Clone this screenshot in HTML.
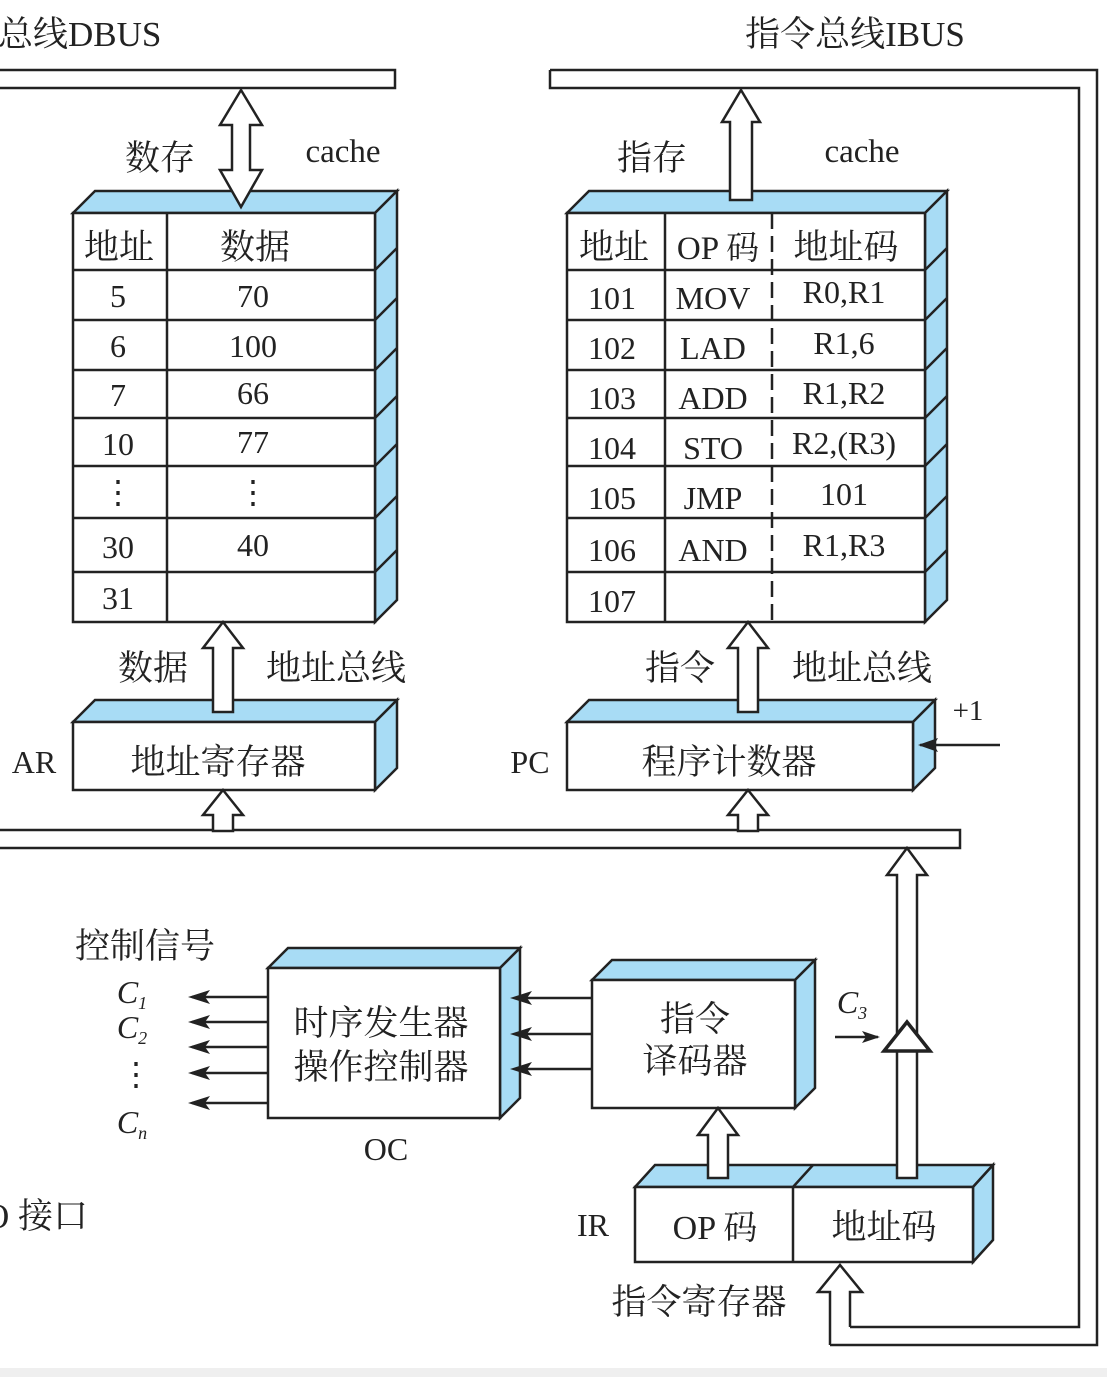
<!DOCTYPE html>
<html><head><meta charset="utf-8"><style>
html,body{margin:0;padding:0;background:#fff;}
svg{display:block;}
text{font-family:"Liberation Serif","Noto Serif CJK SC",serif;fill:#222;}
</style></head><body>
<svg width="1107" height="1377" viewBox="0 0 1107 1377" xmlns="http://www.w3.org/2000/svg">
<rect x="0" y="1368" width="1107" height="9" fill="#efefef"/>
<g stroke="#222" stroke-width="2.5" fill="none" stroke-linejoin="miter">
<path d="M-5 70 H395 V88 H-5" fill="#fff"/>
<path d="M550 70 H1097 V1345 H830 M550 70 V88 H1079 V1327 H850"/>
<polygon points="73,213 95,191 397,191 375,213" fill="#a8dcf5"/>
<polygon points="375,213 397,191 397,600 375,622" fill="#a8dcf5"/>
<rect x="73" y="213" width="302" height="409" fill="#fff"/>
<path d="M73 270H375M73 320H375M73 370H375M73 418H375M73 466H375M73 518H375M73 572H375M167 213V622"/>
<path d="M375 270L397 248M375 320L397 298M375 370L397 348M375 418L397 396M375 466L397 444M375 518L397 496M375 572L397 550"/>
<polygon points="567,213 589,191 947,191 925,213" fill="#a8dcf5"/>
<polygon points="925,213 947,191 947,600 925,622" fill="#a8dcf5"/>
<rect x="567" y="213" width="358" height="409" fill="#fff"/>
<path d="M567 270H925M567 320H925M567 370H925M567 418H925M567 466H925M567 518H925M567 572H925M665 213V622"/>
<path d="M772 213V622" stroke-dasharray="16,7"/>
<path d="M925 270L947 248M925 320L947 298M925 370L947 348M925 418L947 396M925 466L947 444M925 518L947 496M925 572L947 550"/>
<polygon points="73,722 95,700 397,700 375,722" fill="#a8dcf5"/>
<polygon points="375,722 397,700 397,768 375,790" fill="#a8dcf5"/>
<rect x="73" y="722" width="302" height="68" fill="#fff"/>
<polygon points="567,722 589,700 935,700 913,722" fill="#a8dcf5"/>
<polygon points="913,722 935,700 935,768 913,790" fill="#a8dcf5"/>
<rect x="567" y="722" width="346" height="68" fill="#fff"/>
<polygon points="268,968 288,948 520,948 500,968" fill="#a8dcf5"/>
<polygon points="500,968 520,948 520,1098 500,1118" fill="#a8dcf5"/>
<rect x="268" y="968" width="232" height="150" fill="#fff"/>
<polygon points="592,980 612,960 815,960 795,980" fill="#a8dcf5"/>
<polygon points="795,980 815,960 815,1088 795,1108" fill="#a8dcf5"/>
<rect x="592" y="980" width="203" height="128" fill="#fff"/>
<polygon points="635,1187 655,1165 993,1165 973,1187" fill="#a8dcf5"/>
<path d="M793 1187 L813 1165"/>
<polygon points="973,1187 993,1165 993,1240 973,1262" fill="#a8dcf5"/>
<rect x="635" y="1187" width="338" height="75" fill="#fff"/>
<path d="M793 1187V1262"/>
<path d="M-5 830 H213 M233 830 H738 M758 830 H960 V848 H-5"/>
<polygon points="241,90 262,125 250,125 250,170 262,170 241,207 220,170 232,170 232,125 220,125" fill="#fff"/>
<polygon points="741,90 760,122 752,122 752,200 730,200 730,122 722,122" fill="#fff"/>
<polygon points="223,622 243,648 233,648 233,712 213,712 213,648 203,648" fill="#fff"/>
<polygon points="748,622 768,648 758,648 758,712 738,712 738,648 728,648" fill="#fff"/>
<polygon points="223,790 243,815 233,815 233,831 213,831 213,815 203,815" fill="#fff"/>
<polygon points="748,790 768,815 758,815 758,831 738,831 738,815 728,815" fill="#fff"/>
<polygon points="907,848 927,875 917,875 917,1178 897,1178 897,875 887,875" fill="#fff"/>
<polygon points="907,1022 930,1051 884,1051" fill="#fff" stroke-width="3.5"/>
<polygon points="718,1108 738,1135 728,1135 728,1178 708,1178 708,1135 698,1135" fill="#fff"/>
<path d="M830 1345 V1292 H818 L840 1265 L862 1292 H850 V1327" fill="#fff"/>
<path d="M1000 745 H920 M835 1037 H878"/>
<path d="M268 997H192M268 1022H192M268 1047H192M268 1073H192M268 1103H192"/>
<path d="M592 998H515M592 1034H515M592 1069H515"/>
</g>
<g fill="#222">
<polygon points="918,745 938,738 934,745 938,752"/>
<polygon points="880,1037 862,1031 866,1037 862,1043"/>
<polygon points="188,997 210,990 205,997 210,1004"/>
<polygon points="188,1022 210,1015 205,1022 210,1029"/>
<polygon points="188,1047 210,1040 205,1047 210,1054"/>
<polygon points="188,1073 210,1066 205,1073 210,1080"/>
<polygon points="188,1103 210,1096 205,1103 210,1110"/>
<polygon points="510,998 532,991 527,998 532,1005"/>
<polygon points="510,1034 532,1027 527,1034 532,1041"/>
<polygon points="510,1069 532,1062 527,1069 532,1076"/>
</g>
<g font-size="35" text-anchor="middle">
<text x="-2" y="46" text-anchor="start">总线DBUS</text>
<text x="855" y="46">指令总线IBUS</text>
<text x="160" y="170">数存</text>
<text x="343" y="162" font-size="33">cache</text>
<text x="652" y="170">指存</text>
<text x="862" y="162" font-size="33">cache</text>
<text x="119" y="259">地址</text>
<text x="255" y="259">数据</text>
<text x="614" y="259">地址</text>
<text x="718" y="259" font-size="33">OP 码</text>
<text x="846" y="259">地址码</text>
</g>
<g font-size="32" text-anchor="middle">
<text x="118" y="307">5</text><text x="253" y="307">70</text>
<text x="118" y="357">6</text><text x="253" y="357">100</text>
<text x="118" y="406">7</text><text x="253" y="404">66</text>
<text x="118" y="455">10</text><text x="253" y="453">77</text>
<text x="118" y="503">⋮</text><text x="253" y="503">⋮</text>
<text x="118" y="558">30</text><text x="253" y="556">40</text>
<text x="118" y="609">31</text>
<text x="612" y="309">101</text><text x="713" y="309">MOV</text><text x="844" y="303">R0,R1</text>
<text x="612" y="359">102</text><text x="713" y="359">LAD</text><text x="844" y="354">R1,6</text>
<text x="612" y="409">103</text><text x="713" y="409">ADD</text><text x="844" y="404">R1,R2</text>
<text x="612" y="459">104</text><text x="713" y="459">STO</text><text x="844" y="454">R2,(R3)</text>
<text x="612" y="509">105</text><text x="713" y="509">JMP</text><text x="844" y="505">101</text>
<text x="612" y="561">106</text><text x="713" y="561">AND</text><text x="844" y="556">R1,R3</text>
<text x="612" y="612">107</text>
</g>
<g font-size="35" text-anchor="middle">
<text x="153" y="680">数据</text>
<text x="336" y="680">地址总线</text>
<text x="680" y="680">指令</text>
<text x="862" y="680">地址总线</text>
<text x="34" y="773" font-size="32">AR</text>
<text x="218" y="774">地址寄存器</text>
<text x="530" y="773" font-size="32">PC</text>
<text x="729" y="774">程序计数器</text>
<text x="968" y="720" font-size="29">+1</text>
<text x="145" y="958">控制信号</text>
<text x="381" y="1035">时序发生器</text>
<text x="381" y="1079">操作控制器</text>
<text x="386" y="1160" font-size="32">OC</text>
<text x="695" y="1031">指令</text>
<text x="695" y="1073">译码器</text>
<text x="593" y="1236" font-size="32">IR</text>
<text x="715" y="1239" font-size="34">OP 码</text>
<text x="884" y="1239">地址码</text>
<text x="699" y="1314">指令寄存器</text>
<text x="88" y="1228" text-anchor="end">I/O 接口</text>
</g>
<g font-size="32" font-style="italic" text-anchor="middle">
<text x="132" y="1003">C<tspan font-size="18" dy="6">1</tspan></text>
<text x="132" y="1038">C<tspan font-size="18" dy="6">2</tspan></text>
<text x="136" y="1085" font-style="normal">⋮</text>
<text x="132" y="1133">C<tspan font-size="18" dy="6">n</tspan></text>
<text x="852" y="1013">C<tspan font-size="18" dy="6">3</tspan></text>
</g>
</svg>
</body></html>
